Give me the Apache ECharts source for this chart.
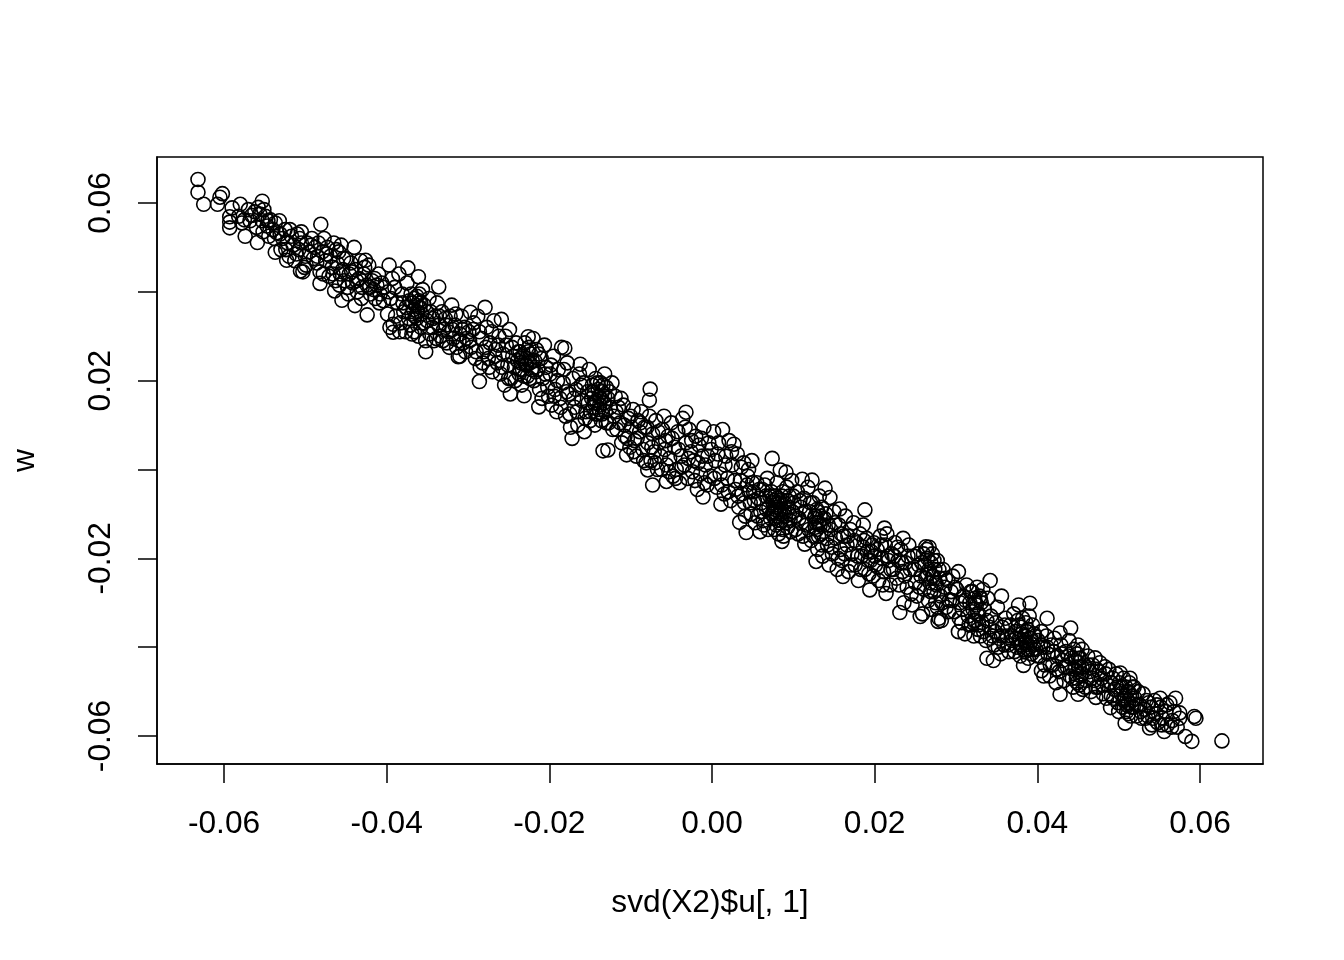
<!DOCTYPE html>
<html><head><meta charset="utf-8">
<style>html,body{margin:0;padding:0;background:#fff}#c{width:1344px;height:960px}</style>
<script src="https://cdn.jsdelivr.net/npm/echarts@6/dist/echarts.min.js"></script></head>
<body><div id="c"></div>
<script>
const xTicks=[-0.06,-0.04,-0.02,0,0.02,0.04,0.06];
const yTicks=[-0.06,-0.04,-0.02,0,0.02,0.04,0.06];
const yLabels=[-0.06,-0.02,0.02,0.06];
const bandA=[[-.0632,.0653],[-.0632,.0624],[-.0625,.0597],[-.0608,.0597],[-.0605,.0613],[-.0602,.0621],[-.0590,.0589],[-.0593,.0569],[-.0593,.0544],[-.0593,.0557],[-.0580,.0597],[-.0553,.0604],[-.0574,.0525],[-.0559,.0511],[-.0582,.0570],[-.0575,.0562],[-.0570,.0585],[-.0566,.0572],[-.0562,.0580],[-.0558,.0590],[-.0556,.0575],[-.0553,.0560],[-.0551,.0585],[-.0549,.0570],[-.0547,.0548],[-.0545,.0525],[-.0543,.0562],[-.0540,.0540],[-.0537,.0555],[-.0535,.0533],[-.0532,.0560],[-.0530,.0495],[-.0528,.0520],[-.0525,.0540],[-.0522,.0510],[-.0520,.0480],[-.0517,.0525],[-.0515,.0505],[-.0513,.0470],[-.0510,.0530],[-.0508,.0495],[-.0505,.0510],[-.0503,.0445],[-.0501,.0455],[-.0505,.0535],[-.0500,.0480],[-.0537,.0489],[-.0523,.0471],[-.0506,.0447]];
const bandB=[[-.0481,.0552],[-.0440,.0500],[-.0426,.0471],[-.0482,.0419],[-.0464,.0402],[-.0455,.0381],[-.0439,.0369],[-.0424,.0348],[-.0498,.0510],[-.0495,.0490],[-.0492,.0520],[-.0490,.0475],[-.0488,.0500],[-.0486,.0465],[-.0484,.0510],[-.0482,.0445],[-.0479,.0490],[-.0477,.0520],[-.0475,.0470],[-.0473,.0500],[-.0471,.0435],[-.0469,.0480],[-.0467,.0455],[-.0465,.0510],[-.0463,.0425],[-.0461,.0465],[-.0459,.0490],[-.0457,.0440],[-.0456,.0505],[-.0454,.0450],[-.0452,.0425],[-.0450,.0475],[-.0448,.0410],[-.0446,.0440],[-.0444,.0465],[-.0442,.0420],[-.0438,.0450],[-.0436,.0400],[-.0434,.0430],[-.0432,.0470],[-.0430,.0410],[-.0428,.0440],[-.0424,.0415],[-.0422,.0460],[-.0420,.0395],[-.0418,.0425],[-.0416,.0405],[-.0414,.0385],[-.0412,.0415],[-.0410,.0440],[-.0408,.0395],[-.0406,.0420],[-.0404,.0380]];
const bandC=[[-.0397,.0460],[-.0374,.0454],[-.0361,.0434],[-.0336,.0411],[-.0320,.0370],[-.0392,.0309],[-.0392,.0327],[-.0352,.0265],[-.0312,.0254],[-.0398,.0400],[-.0395,.0385],[-.0393,.0430],[-.0390,.0410],[-.0387,.0375],[-.0385,.0440],[-.0383,.0330],[-.0381,.0395],[-.0379,.0355],[-.0377,.0310],[-.0375,.0420],[-.0373,.0340],[-.0372,.0380],[-.0370,.0395],[-.0369,.0305],[-.0368,.0375],[-.0367,.0360],[-.0366,.0385],[-.0365,.0345],[-.0364,.0370],[-.0363,.0390],[-.0362,.0355],[-.0361,.0300],[-.0360,.0380],[-.0359,.0365],[-.0358,.0320],[-.0357,.0350],[-.0356,.0405],[-.0354,.0370],[-.0352,.0290],[-.0350,.0335],[-.0348,.0385],[-.0346,.0355],[-.0344,.0320],[-.0342,.0290],[-.0340,.0345],[-.0338,.0375],[-.0336,.0325],[-.0334,.0300],[-.0332,.0355],[-.0330,.0315],[-.0328,.0340],[-.0326,.0285],[-.0324,.0310],[-.0322,.0345],[-.0318,.0295],[-.0316,.0325],[-.0314,.0275],[-.0310,.0305],[-.0308,.0345],[-.0306,.0285],[-.0304,.0320],[-.0302,.0295]];
const bandD=[[-.0297,.0354],[-.0279,.0365],[-.0259,.0338],[-.0226,.0299],[-.0286,.0198],[-.0310,.0255],[-.0248,.0170],[-.0231,.0166],[-.0213,.0141],[-.0299,.0310],[-.0296,.0275],[-.0293,.0330],[-.0291,.0250],[-.0288,.0345],[-.0285,.0230],[-.0283,.0295],[-.0281,.0265],[-.0277,.0320],[-.0275,.0250],[-.0273,.0285],[-.0270,.0220],[-.0268,.0335],[-.0266,.0270],[-.0264,.0240],[-.0262,.0300],[-.0260,.0215],[-.0257,.0260],[-.0255,.0190],[-.0253,.0280],[-.0251,.0235],[-.0249,.0315],[-.0247,.0205],[-.0245,.0255],[-.0243,.0230],[-.0241,.0285],[-.0239,.0245],[-.0237,.0215],[-.0236,.0265],[-.0235,.0240],[-.0234,.0190],[-.0233,.0225],[-.0232,.0255],[-.0230,.0285],[-.0229,.0235],[-.0228,.0250],[-.0227,.0210],[-.0225,.0275],[-.0224,.0240],[-.0223,.0260],[-.0222,.0225],[-.0220,.0295],[-.0219,.0200],[-.0218,.0245],[-.0216,.0270],[-.0214,.0225],[-.0212,.0180],[-.0210,.0250],[-.0208,.0205],[-.0206,.0280],[-.0204,.0230],[-.0202,.0185]];
const bandE=[[-.0181,.0273],[-.0162,.0237],[-.0172,.0070],[-.0134,.0042],[-.0128,.0044],[-.0105,.0033],[-.0199,.0215],[-.0197,.0145],[-.0195,.0255],[-.0193,.0180],[-.0191,.0130],[-.0189,.0225],[-.0187,.0160],[-.0185,.0275],[-.0183,.0195],[-.0180,.0120],[-.0178,.0240],[-.0176,.0170],[-.0174,.0095],[-.0171,.0205],[-.0169,.0140],[-.0167,.0180],[-.0165,.0100],[-.0163,.0215],[-.0160,.0155],[-.0158,.0195],[-.0157,.0085],[-.0155,.0130],[-.0153,.0175],[-.0151,.0225],[-.0150,.0110],[-.0148,.0160],[-.0147,.0190],[-.0146,.0140],[-.0145,.0170],[-.0144,.0100],[-.0143,.0205],[-.0142,.0155],[-.0141,.0125],[-.0140,.0180],[-.0139,.0165],[-.0138,.0145],[-.0137,.0195],[-.0136,.0110],[-.0135,.0175],[-.0133,.0150],[-.0132,.0215],[-.0131,.0130],[-.0130,.0185],[-.0128,.0160],[-.0127,.0105],[-.0125,.0140],[-.0123,.0195],[-.0121,.0120],[-.0119,.0165],[-.0117,.0090],[-.0115,.0140],[-.0113,.0105],[-.0111,.0060],[-.0109,.0145],[-.0107,.0075],[-.0103,.0115],[-.0101,.0050]];
const bandF=[[-.0076,.0181],[-.0077,.0156],[-.0032,.0129],[-.0079,-.0001],[-.0073,-.0035],[-.0056,-.0027],[-.0099,.0095],[-.0097,.0135],[-.0095,.0065],[-.0093,.0030],[-.0091,.0110],[-.0089,.0085],[-.0087,.0130],[-.0085,.0045],[-.0083,.0095],[-.0081,.0015],[-.0079,.0060],[-.0077,.0120],[-.0075,.0020],[-.0073,.0080],[-.0071,.0040],[-.0069,.0110],[-.0067,.0000],[-.0065,.0060],[-.0063,.0030],[-.0061,.0090],[-.0059,.0120],[-.0058,.0045],[-.0056,.0010],[-.0054,.0075],[-.0052,.0025],[-.0050,.0105],[-.0048,-.0015],[-.0046,.0050],[-.0044,.0000],[-.0042,.0085],[-.0040,-.0030],[-.0038,.0030],[-.0036,.0115],[-.0034,.0010],[-.0032,.0060],[-.0030,-.0020],[-.0028,.0090],[-.0026,.0040],[-.0024,-.0005],[-.0022,.0020],[-.0020,.0075],[-.0018,-.0045],[-.0016,.0055],[-.0014,-.0010],[-.0012,.0030],[-.0011,-.0062],[-.0010,.0095],[-.0008,.0010],[-.0006,-.0035],[-.0004,.0060],[-.0002,-.0015]];
const bandG=[[.0011,-.0078],[.0027,.0057],[.0074,.0025],[.0084,-.0001],[.0091,-.0006],[.0034,-.0119],[.0042,-.0142],[.0059,-.0140],[.0086,-.0162],[.0002,.0085],[.0004,.0020],[.0006,-.0040],[.0008,.0060],[.0010,-.0010],[.0013,.0090],[.0015,-.0055],[.0017,.0030],[.0019,-.0020],[.0021,.0065],[.0023,-.0070],[.0025,.0010],[.0029,-.0045],[.0031,.0035],[.0033,-.0085],[.0035,-.0025],[.0037,-.0055],[.0039,.0015],[.0041,-.0105],[.0043,-.0035],[.0045,.0000],[.0047,-.0075],[.0049,.0020],[.0051,-.0050],[.0053,-.0120],[.0055,-.0030],[.0057,-.0065],[.0060,-.0095],[.0062,-.0045],[.0064,-.0125],[.0066,-.0060],[.0068,-.0020],[.0070,-.0085],[.0072,-.0110],[.0073,-.0050],[.0075,-.0075],[.0076,-.0095],[.0077,-.0135],[.0078,-.0060],[.0079,-.0085],[.0080,-.0030],[.0081,-.0105],[.0082,-.0070],[.0083,-.0120],[.0085,-.0090],[.0087,-.0050],[.0088,-.0150],[.0089,-.0075],[.0090,-.0105],[.0092,-.0040],[.0093,-.0130],[.0094,-.0085],[.0095,-.0060],[.0096,-.0115],[.0098,-.0025],[.0099,-.0095]];
const bandH=[[.0111,-.0022],[.0123,-.0024],[.0139,-.0042],[.0145,-.0063],[.0157,-.0089],[.0188,-.0091],[.0186,-.0125],[.0114,-.0168],[.0128,-.0207],[.0161,-.0241],[.0101,-.0075],[.0103,-.0135],[.0105,-.0050],[.0107,-.0110],[.0109,-.0085],[.0112,-.0150],[.0113,-.0065],[.0116,-.0125],[.0118,-.0040],[.0120,-.0095],[.0122,-.0160],[.0124,-.0075],[.0126,-.0110],[.0127,-.0130],[.0129,-.0090],[.0130,-.0180],[.0131,-.0120],[.0132,-.0060],[.0133,-.0105],[.0134,-.0145],[.0135,-.0085],[.0136,-.0195],[.0137,-.0125],[.0140,-.0100],[.0142,-.0170],[.0144,-.0215],[.0146,-.0135],[.0148,-.0190],[.0150,-.0095],[.0152,-.0155],[.0154,-.0225],[.0156,-.0125],[.0158,-.0180],[.0160,-.0205],[.0162,-.0150],[.0164,-.0105],[.0166,-.0170],[.0168,-.0230],[.0170,-.0135],[.0172,-.0190],[.0174,-.0120],[.0176,-.0215],[.0178,-.0165],[.0180,-.0250],[.0182,-.0145],[.0184,-.0195],[.0186,-.0175],[.0188,-.0225],[.0190,-.0155],[.0192,-.0205],[.0194,-.0271],[.0196,-.0185],[.0198,-.0240],[.0199,-.0165]];
const bandI=[[.0212,-.0132],[.0235,-.0155],[.0263,-.0174],[.0214,-.0279],[.0231,-.0322],[.0256,-.0331],[.0278,-.0342],[.0201,-.0215],[.0203,-.0180],[.0205,-.0250],[.0207,-.0150],[.0209,-.0200],[.0211,-.0230],[.0213,-.0170],[.0215,-.0145],[.0217,-.0205],[.0219,-.0260],[.0221,-.0190],[.0223,-.0225],[.0225,-.0165],[.0227,-.0245],[.0229,-.0205],[.0232,-.0180],[.0234,-.0230],[.0236,-.0300],[.0238,-.0210],[.0240,-.0265],[.0242,-.0170],[.0244,-.0225],[.0246,-.0305],[.0248,-.0195],[.0250,-.0255],[.0252,-.0285],[.0254,-.0215],[.0257,-.0240],[.0259,-.0325],[.0260,-.0190],[.0261,-.0270],[.0262,-.0215],[.0264,-.0180],[.0265,-.0235],[.0266,-.0295],[.0267,-.0175],[.0268,-.0255],[.0269,-.0210],[.0270,-.0315],[.0271,-.0190],[.0272,-.0240],[.0273,-.0275],[.0274,-.0225],[.0275,-.0300],[.0276,-.0260],[.0277,-.0205],[.0279,-.0335],[.0280,-.0245],[.0281,-.0285],[.0282,-.0340],[.0284,-.0225],[.0286,-.0265],[.0288,-.0310],[.0290,-.0250],[.0292,-.0295],[.0294,-.0275],[.0296,-.0240],[.0298,-.0320]];
const bandJ=[[.0303,-.0230],[.0342,-.0250],[.0356,-.0285],[.0377,-.0305],[.0391,-.0301],[.0338,-.0425],[.0346,-.0430],[.0383,-.0441],[.0301,-.0270],[.0303,-.0365],[.0305,-.0300],[.0307,-.0345],[.0309,-.0285],[.0311,-.0370],[.0313,-.0260],[.0315,-.0330],[.0317,-.0300],[.0319,-.0350],[.0320,-.0275],[.0321,-.0315],[.0322,-.0375],[.0323,-.0290],[.0324,-.0340],[.0325,-.0305],[.0326,-.0265],[.0327,-.0360],[.0328,-.0325],[.0329,-.0285],[.0330,-.0375],[.0331,-.0300],[.0332,-.0345],[.0333,-.0270],[.0335,-.0315],[.0337,-.0385],[.0339,-.0290],[.0341,-.0355],[.0343,-.0330],[.0345,-.0375],[.0347,-.0395],[.0349,-.0345],[.0351,-.0310],[.0353,-.0380],[.0355,-.0415],[.0357,-.0355],[.0359,-.0395],[.0361,-.0335],[.0363,-.0375],[.0365,-.0410],[.0367,-.0350],[.0369,-.0385],[.0371,-.0325],[.0373,-.0365],[.0375,-.0400],[.0376,-.0340],[.0378,-.0380],[.0379,-.0420],[.0380,-.0355],[.0381,-.0395],[.0382,-.0335],[.0384,-.0375],[.0385,-.0410],[.0386,-.0345],[.0387,-.0390],[.0388,-.0360],[.0389,-.0405],[.0390,-.0330],[.0392,-.0380],[.0393,-.0415],[.0394,-.0350],[.0395,-.0395],[.0396,-.0370],[.0398,-.0405]];
const bandK=[[.0412,-.0335],[.0441,-.0357],[.0405,-.0453],[.0428,-.0506],[.0450,-.0506],[.0472,-.0513],[.0490,-.0536],[.0483,-.0444],[.0471,-.0424],[.0450,-.0395],[.0428,-.0368],[.0401,-.0385],[.0403,-.0420],[.0405,-.0365],[.0407,-.0400],[.0409,-.0440],[.0411,-.0375],[.0413,-.0415],[.0415,-.0465],[.0417,-.0395],[.0419,-.0440],[.0421,-.0380],[.0423,-.0480],[.0425,-.0420],[.0427,-.0455],[.0429,-.0395],[.0431,-.0430],[.0433,-.0475],[.0435,-.0410],[.0437,-.0445],[.0439,-.0385],[.0440,-.0465],[.0442,-.0425],[.0444,-.0490],[.0445,-.0405],[.0446,-.0450],[.0447,-.0430],[.0448,-.0470],[.0449,-.0415],[.0451,-.0445],[.0452,-.0485],[.0453,-.0425],[.0454,-.0460],[.0455,-.0405],[.0456,-.0495],[.0458,-.0440],[.0460,-.0475],[.0462,-.0420],[.0464,-.0455],[.0466,-.0500],[.0468,-.0440],[.0470,-.0475],[.0473,-.0450],[.0475,-.0490],[.0477,-.0435],[.0479,-.0470],[.0481,-.0505],[.0484,-.0460],[.0486,-.0485],[.0488,-.0450],[.0491,-.0510],[.0493,-.0470],[.0495,-.0495],[.0497,-.0460],[.0499,-.0525]];
const bandL=[[.0508,-.0571],[.0538,-.0582],[.0556,-.0590],[.0590,-.0612],[.0582,-.0601],[.0627,-.0611],[.0595,-.0560],[.0593,-.0556],[.0570,-.0515],[.0551,-.0515],[.0514,-.0470],[.0502,-.0458],[.0501,-.0480],[.0503,-.0505],[.0505,-.0535],[.0506,-.0470],[.0507,-.0515],[.0509,-.0490],[.0510,-.0545],[.0511,-.0500],[.0512,-.0525],[.0513,-.0480],[.0515,-.0555],[.0516,-.0510],[.0517,-.0490],[.0518,-.0535],[.0520,-.0515],[.0522,-.0555],[.0524,-.0500],[.0526,-.0530],[.0528,-.0560],[.0530,-.0505],[.0532,-.0540],[.0534,-.0520],[.0536,-.0555],[.0540,-.0535],[.0542,-.0560],[.0544,-.0520],[.0546,-.0550],[.0548,-.0570],[.0552,-.0535],[.0554,-.0560],[.0558,-.0545],[.0560,-.0575],[.0563,-.0525],[.0566,-.0565],[.0568,-.0545],[.0572,-.0580],[.0575,-.0560],[.0575,-.0548]];
const denseLeft=[[-.0578,.0555],[-.0568,.0560],[-.0560,.0545],[-.0552,.0535],[-.0546,.0560],[-.0538,.0520],[-.0531,.0530],[-.0524,.0495],[-.0519,.0540],[-.0511,.0485],[-.0507,.0520],[-.0499,.0460],[-.0493,.0505],[-.0485,.0480],[-.0478,.0440],[-.0474,.0485],[-.0466,.0440],[-.0462,.0495],[-.0458,.0415],[-.0453,.0475],[-.0447,.0395],[-.0443,.0445],[-.0437,.0425],[-.0431,.0385],[-.0427,.0455],[-.0421,.0410],[-.0415,.0430],[-.0409,.0375],[-.0403,.0410],[-.0399,.0350],[-.0396,.0320],[-.0389,.0345],[-.0384,.0310],[-.0380,.0375],[-.0376,.0365],[-.0371,.0325],[-.0369,.0350],[-.0366,.0310],[-.0363,.0340],[-.0360,.0395],[-.0358,.0375],[-.0355,.0330],[-.0351,.0355],[-.0347,.0305],[-.0343,.0340],[-.0339,.0295],[-.0335,.0345],[-.0331,.0290],[-.0327,.0325],[-.0323,.0275],[-.0319,.0315],[-.0315,.0350],[-.0311,.0290],[-.0307,.0315],[-.0303,.0265],[-.0298,.0290],[-.0294,.0315],[-.0290,.0265],[-.0286,.0310],[-.0282,.0240],[-.0278,.0275],[-.0274,.0230],[-.0271,.0310],[-.0267,.0255],[-.0263,.0280],[-.0258,.0230],[-.0254,.0300],[-.0250,.0205],[-.0246,.0275],[-.0242,.0200],[-.0238,.0265],[-.0236,.0225],[-.0234,.0250],[-.0231,.0210],[-.0228,.0235],[-.0226,.0265],[-.0224,.0205],[-.0221,.0245],[-.0217,.0220],[-.0213,.0260],[-.0209,.0160],[-.0205,.0215],[-.0201,.0165],[-.0198,.0235],[-.0194,.0165],[-.0190,.0200],[-.0186,.0140],[-.0182,.0225],[-.0179,.0175],[-.0175,.0125],[-.0170,.0160],[-.0166,.0130],[-.0161,.0190],[-.0156,.0115],[-.0152,.0150],[-.0149,.0130],[-.0147,.0175],[-.0145,.0150],[-.0143,.0125],[-.0141,.0195],[-.0139,.0135],[-.0137,.0160],[-.0135,.0125],[-.0134,.0190],[-.0132,.0165],[-.0130,.0105],[-.0126,.0175],[-.0122,.0090],[-.0118,.0130],[-.0112,.0160],[-.0108,.0100],[-.0104,.0070],[-.0100,.0120],[-.0096,.0040],[-.0092,.0070],[-.0088,.0105],[-.0084,.0020],[-.0080,.0095],[-.0074,.0050],[-.0070,.0015],[-.0066,.0085],[-.0062,.0000],[-.0057,.0065],[-.0053,-.0005],[-.0049,.0070],[-.0045,-.0020],[-.0041,.0045],[-.0037,.0005],[-.0033,.0095],[-.0029,.0025],[-.0025,.0065],[-.0021,-.0025],[-.0017,.0015],[-.0013,.0070],[-.0009,-.0030],[-.0005,.0030],[-.0001,.0045]];
const denseRight=[[.0003,-.0020],[.0007,.0035],[.0012,-.0035],[.0016,.0010],[.0020,-.0050],[.0024,.0040],[.0028,-.0025],[.0032,-.0060],[.0036,.0005],[.0040,-.0075],[.0044,-.0015],[.0046,-.0050],[.0048,-.0100],[.0050,-.0030],[.0052,-.0070],[.0056,-.0105],[.0058,-.0045],[.0061,-.0075],[.0063,-.0115],[.0065,-.0035],[.0067,-.0090],[.0069,-.0135],[.0071,-.0060],[.0074,-.0100],[.0076,-.0070],[.0077,-.0110],[.0078,-.0090],[.0079,-.0125],[.0080,-.0065],[.0081,-.0085],[.0082,-.0145],[.0083,-.0075],[.0084,-.0100],[.0085,-.0115],[.0086,-.0060],[.0087,-.0135],[.0089,-.0095],[.0091,-.0120],[.0093,-.0070],[.0095,-.0100],[.0097,-.0140],[.0100,-.0060],[.0102,-.0105],[.0106,-.0145],[.0108,-.0070],[.0110,-.0120],[.0115,-.0095],[.0119,-.0135],[.0121,-.0075],[.0125,-.0150],[.0127,-.0105],[.0128,-.0120],[.0129,-.0135],[.0130,-.0095],[.0131,-.0150],[.0133,-.0125],[.0135,-.0170],[.0138,-.0110],[.0141,-.0155],[.0143,-.0125],[.0147,-.0175],[.0151,-.0120],[.0155,-.0200],[.0159,-.0145],[.0163,-.0190],[.0167,-.0150],[.0171,-.0215],[.0175,-.0160],[.0179,-.0195],[.0183,-.0225],[.0187,-.0160],[.0191,-.0185],[.0193,-.0235],[.0195,-.0205],[.0197,-.0170],[.0200,-.0195],[.0204,-.0220],[.0208,-.0170],[.0210,-.0260],[.0216,-.0195],[.0220,-.0225],[.0224,-.0195],[.0228,-.0175],[.0230,-.0260],[.0233,-.0210],[.0237,-.0240],[.0241,-.0195],[.0245,-.0280],[.0249,-.0225],[.0253,-.0190],[.0255,-.0265],[.0258,-.0210],[.0263,-.0245],[.0265,-.0200],[.0267,-.0225],[.0269,-.0275],[.0271,-.0240],[.0273,-.0205],[.0275,-.0255],[.0277,-.0310],[.0279,-.0225],[.0283,-.0300],[.0287,-.0245],[.0291,-.0320],[.0295,-.0295],[.0299,-.0265],[.0304,-.0335],[.0308,-.0315],[.0312,-.0295],[.0316,-.0350],[.0318,-.0275],[.0322,-.0340],[.0324,-.0300],[.0326,-.0325],[.0328,-.0350],[.0330,-.0290],[.0334,-.0365],[.0338,-.0340],[.0342,-.0380],[.0348,-.0365],[.0352,-.0400],[.0356,-.0375],[.0360,-.0350],[.0364,-.0395],[.0368,-.0375],[.0372,-.0410],[.0374,-.0380],[.0377,-.0350],[.0379,-.0395],[.0381,-.0370],[.0383,-.0405],[.0385,-.0385],[.0387,-.0365],[.0389,-.0425],[.0391,-.0390],[.0394,-.0405],[.0397,-.0375],[.0400,-.0420],[.0404,-.0395],[.0408,-.0465],[.0412,-.0400],[.0416,-.0440],[.0420,-.0410],[.0424,-.0450],[.0430,-.0415],[.0434,-.0445],[.0438,-.0420],[.0443,-.0470],[.0447,-.0445],[.0449,-.0480],[.0451,-.0425],[.0453,-.0465],[.0455,-.0445],[.0459,-.0490],[.0463,-.0440],[.0467,-.0470],[.0472,-.0490],[.0476,-.0455],[.0480,-.0485],[.0485,-.0515],[.0490,-.0480],[.0494,-.0515],[.0498,-.0490],[.0500,-.0545],[.0504,-.0490],[.0506,-.0520],[.0508,-.0510],[.0510,-.0530],[.0512,-.0550],[.0514,-.0505],[.0516,-.0535],[.0519,-.0490],[.0523,-.0530],[.0527,-.0545],[.0533,-.0560],[.0537,-.0525],[.0541,-.0575],[.0547,-.0530],[.0553,-.0575],[.0559,-.0530],[.0565,-.0580]];
const points=[].concat(bandA,bandB,bandC,bandD,bandE,bandF,bandG,bandH,bandI,bandJ,bandK,bandL,denseLeft,denseRight);
const FONT='"Liberation Sans",Arial,sans-serif';
const chart=echarts.init(document.getElementById('c'),null,{renderer:'canvas'});
const line={lineStyle:{color:'#000',width:1.5}};
chart.setOption({
 animation:false,
 backgroundColor:'#fff',
 grid:{left:157,top:157,width:1106,height:607,outerBoundsMode:'none',containLabel:false,show:true,borderColor:'#000',borderWidth:1.5,backgroundColor:'transparent'},
 xAxis:{type:'value',min:-0.06824,max:0.06775,name:'svd(X2)$u[, 1]',nameLocation:'middle',nameGap:123,
  nameTextStyle:{fontFamily:FONT,fontSize:31.7,color:'#000'},splitLine:{show:false},axisLine:{show:true,...line,onZero:false},
  axisTick:{show:true,length:19,customValues:xTicks,...line},
  axisLabel:{customValues:xTicks,margin:44,fontFamily:FONT,fontSize:31.7,color:'#000',formatter:v=>v.toFixed(2)}},
 yAxis:{type:'value',min:-0.0663,max:0.07035,name:'w',nameLocation:'middle',nameGap:116,
  nameTextStyle:{fontFamily:FONT,fontSize:31.7,color:'#000'},splitLine:{show:false},axisLine:{show:true,...line,onZero:false},
  axisTick:{show:true,length:19,customValues:yTicks,...line},
  axisLabel:{customValues:yLabels,rotate:90,margin:40,fontFamily:FONT,fontSize:31.7,color:'#000',align:'center',verticalAlign:'bottom',formatter:v=>v.toFixed(2)}},
 series:[{type:'scatter',data:points,symbol:'circle',symbolSize:14,silent:true,clip:false,
  itemStyle:{color:'transparent',borderColor:'#000',borderWidth:1.6,opacity:1}}]
});
</script></body></html>
